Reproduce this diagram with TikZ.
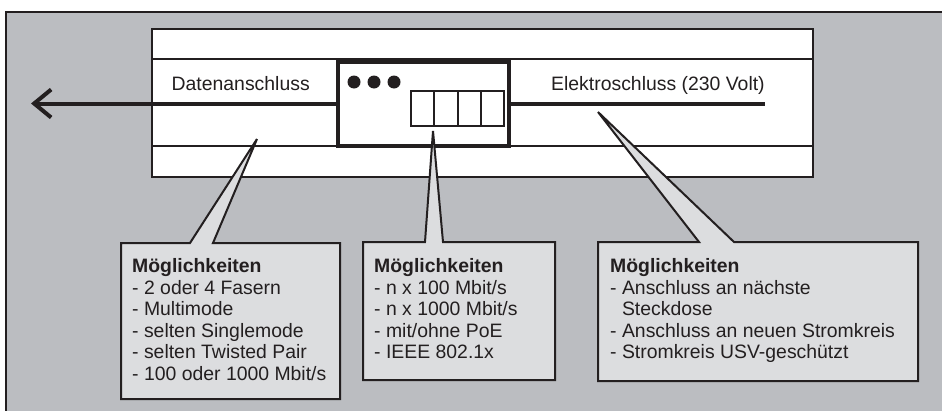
\documentclass[tikz,border=0pt]{standalone}
\usepackage{fontspec}
\setmainfont{Liberation Sans}
\usetikzlibrary{arrows.meta,positioning}
\definecolor{dvbg}{HTML}{BBBDC1}
\definecolor{dvbox}{HTML}{DCDDDF}
\definecolor{dvink}{HTML}{231F20}
\tikzset{
  bgframe/.style={draw=dvink, line width=2pt, fill=dvbg},
  housing/.style={draw=dvink, line width=2.5pt, fill=white},
  band/.style={draw=dvink, line width=2pt},
  switchbox/.style={draw=dvink, line width=4pt, fill=white, minimum width=171pt,
    minimum height=84pt, inner sep=0pt},
  portcell/.style={draw=dvink, line width=2pt, minimum width=23.25pt, minimum height=35pt,
    inner sep=0pt, anchor=north west},
  led/.style={circle, fill=dvink, minimum size=13pt, inner sep=0pt},
  cable/.style={draw=dvink, line width=4pt},
  outarrow/.style={cable, -{Straight Barb[length=17pt, width=28pt]}},
  notebox/.style={draw=dvink, line width=2pt, fill=dvbox},
  devlabel/.style={font=\fontsize{19.4}{21.5}\selectfont, text=dvink, inner sep=0pt, anchor=base west},
  notetext/.style={font=\fontsize{19.4}{21.5}\selectfont, text=dvink, inner sep=0pt,
    anchor=north west, align=left}
}

\begin{document}
\begin{tikzpicture}[x=1pt, y=-1pt]
    \useasboundingbox (0,0) rectangle (942,410);
    \draw[bgframe] (6,12) rectangle (960,430);

    \draw[housing] (152,29) rectangle (813,177);
    \draw[band] (152,59) -- (813,59);
    \draw[band] (152,146) -- (813,146);

    \node[switchbox] (sw) at (423.5,103.5) {};
    \foreach \i in {0,1,2}
        \node[led] (led\i) at (354+20*\i,82) {};
    \foreach \i in {0,...,3}
        \node[portcell] (port\i) at (410+23.25*\i,90) {};

    \coordinate (dataend) at (31,103.5);
    \coordinate (pwrend) at (765,103.5);
    \draw[outarrow] (sw.west) -- (dataend);
    \draw[cable] (sw.east) -- (pwrend);

    \node[devlabel] (datlbl) at (171.5,90.7) {Datenanschluss};
    \node[devlabel] (pwrlbl) at (551,90.7) {Elektroschluss (230 Volt)};

    \coordinate (datpt) at (257,139);
    \coordinate (portpt) at (433,131);
    \coordinate (pwrpt) at (598,112);

    \draw[notebox] (121,243) -- (190,243) -- (datpt) -- (213,243) -- (340,243)
        -- (340,399) -- (121,399) -- cycle;
    \draw[notebox] (363,242) -- (425,242) -- (portpt) -- (443,242) -- (555,242)
        -- (555,380) -- (363,380) -- cycle;
    \draw[notebox] (598,242) -- (699,242) -- (pwrpt) -- (734,242) -- (918,242)
        -- (918,381) -- (598,381) -- cycle;

    \node[notetext] (datnote) at (132,258.7) {\textbf{Möglichkeiten}\\- 2 oder 4 Fasern\\- Multimode\\- selten Singlemode\\- selten Twisted Pair\\- 100 oder 1000 Mbit/s};
    \node[notetext] (portnote) at (374,258.7) {\textbf{Möglichkeiten}\\- n x 100 Mbit/s\\- n x 1000 Mbit/s\\- mit/ohne PoE\\- IEEE 802.1x};
    \node[notetext] (pwrnote) at (610,258.7) {\textbf{Möglichkeiten}\\- Anschluss an nächste\\\hphantom{- }Steckdose\\- Anschluss an neuen Stromkreis\\- Stromkreis USV-geschützt};
\end{tikzpicture}
\end{document}
